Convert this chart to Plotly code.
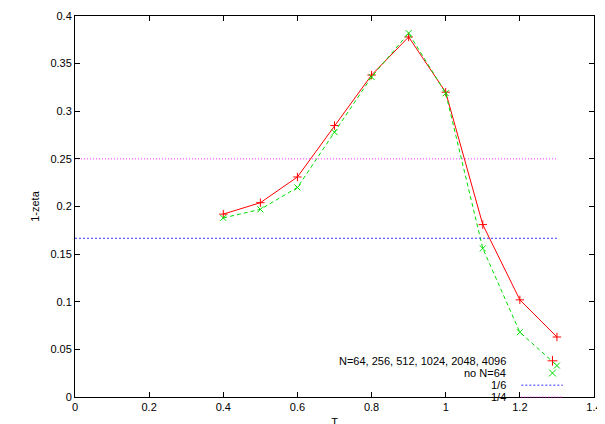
import plotly.graph_objects as go

T = [0.4, 0.5, 0.6, 0.7, 0.8, 0.9, 1.0, 1.1, 1.2, 1.3]
all_n = [0.192, 0.204, 0.231, 0.285, 0.338, 0.378, 0.320, 0.181, 0.102, 0.063]
no64 = [0.188, 0.197, 0.220, 0.278, 0.336, 0.382, 0.319, 0.156, 0.068, 0.033]
hx = [0, 1.3]
labels = ["N=64, 256, 512, 1024, 2048, 4096", "no N=64", "1/6", "1/4"]

fig = go.Figure()
fig.add_trace(go.Scatter(x=T, y=all_n, mode="lines+markers", line=dict(color="#ff0000", width=1),
                         marker=dict(symbol="cross-thin", size=6, line=dict(color="#ff0000", width=1))))
fig.add_trace(go.Scatter(x=T, y=no64, mode="lines+markers", line=dict(color="#00dd00", width=1, dash="4px,3px"),
                         marker=dict(symbol="x-thin", size=6, line=dict(color="#00dd00", width=1))))
fig.add_trace(go.Scatter(x=hx, y=[1/6, 1/6], mode="lines", line=dict(color="#3333ff", width=1, dash="2px,2px")))
fig.add_trace(go.Scatter(x=hx, y=[1/4, 1/4], mode="lines", line=dict(color="#ff33ff", width=1, dash="1px,2px")))

ys = [0.095, 0.063, 0.031, 0.0]
styles = [("cross-thin", "#ff0000", None), ("x-thin", "#00dd00", None),
          (None, "#3333ff", "2px,2px"), (None, "#ff33ff", "1px,2px")]
for lab, yy, (sym, col, dash) in zip(labels, ys, styles):
    fig.add_annotation(x=0.835, y=yy, xref="paper", yref="paper", text=lab, showarrow=False,
                       xanchor="right", yanchor="middle", font=dict(size=11, color="black"))
    if sym:
        fig.add_trace(go.Scatter(x=[0.92], y=[yy], xaxis="x2", yaxis="y2", mode="markers",
                                 marker=dict(symbol=sym, size=7, line=dict(color=col, width=1))))
    else:
        fig.add_shape(type="line", x0=0.86, x1=0.94, y0=yy, y1=yy, xref="paper", yref="paper",
                      line=dict(color=col, width=1, dash=dash))

ax = dict(showgrid=False, zeroline=False, ticks="inside", mirror="allticks", showline=True,
          linecolor="black", linewidth=1, tickcolor="black", ticklen=5, automargin=False,
          tickfont=dict(size=11, color="black"))
fig.update_xaxes(range=[0, 1.4], dtick=0.2, title=dict(text="T", standoff=6, font=dict(size=11)), **ax)
fig.update_yaxes(range=[0, 0.4], dtick=0.05, title=dict(text="1-zeta", standoff=8, font=dict(size=11)), **ax)
fig.update_layout(xaxis2=dict(range=[0, 1], overlaying="x", visible=False),
                  yaxis2=dict(range=[0, 1], overlaying="y", visible=False))
fig.update_layout(width=605, height=424, autosize=False, margin=dict(l=67, r=19, t=8, b=35),
                  showlegend=False, plot_bgcolor="white", paper_bgcolor="white",
                  font=dict(family="Liberation Sans, Arial", color="black"))
fig.write_html("out.html")
